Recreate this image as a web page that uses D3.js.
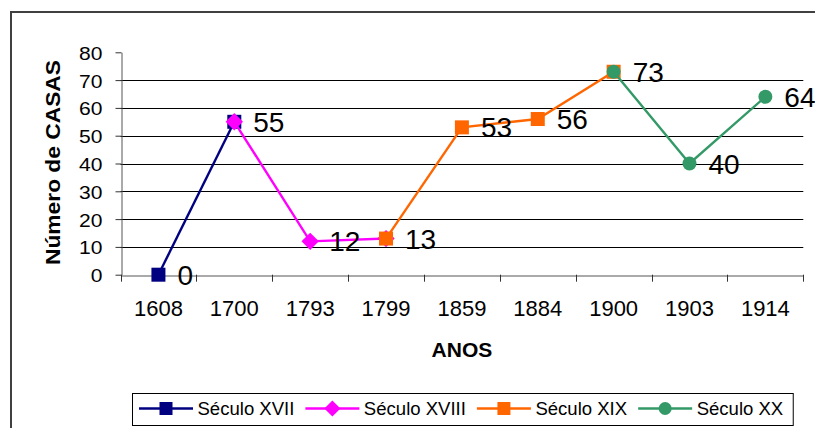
<!DOCTYPE html>
<html>
<head>
<meta charset="utf-8">
<script src="https://cdn.jsdelivr.net/npm/d3@7"></script>
<style>
  html, body { margin: 0; padding: 0; background: #fff; }
  svg { display: block; font-family: Arial, "Liberation Sans", sans-serif; }
</style>
</head>
<body>
<svg id="chart" width="815" height="428"></svg>
<script>
// ---- data ----
const categories = ["1608", "1700", "1793", "1799", "1859", "1884", "1900", "1903", "1914"];
const seculoXVII  = [{c: "1608", v: 0},  {c: "1700", v: 55}];
const seculoXVIII = [{c: "1700", v: 55}, {c: "1793", v: 12}, {c: "1799", v: 13}];
const seculoXIX   = [{c: "1799", v: 13}, {c: "1859", v: 53}, {c: "1884", v: 56}, {c: "1900", v: 73}];
const seculoXX    = [{c: "1900", v: 73}, {c: "1903", v: 40}, {c: "1914", v: 64}];
const pointLabels = [0, 55, 12, 13, 53, 56, 73, 40, 64];
const yTicks = [0, 10, 20, 30, 40, 50, 60, 70, 80];
const seriesNames = ["Século XVII", "Século XVIII", "Século XIX", "Século XX"];

const series = [
  {name: seriesNames[0], data: seculoXVII,  color: "#000080", marker: "square"},
  {name: seriesNames[1], data: seculoXVIII, color: "#FF00FF", marker: "diamond"},
  {name: seriesNames[2], data: seculoXIX,   color: "#FF6600", marker: "square"},
  {name: seriesNames[3], data: seculoXX,    color: "#339966", marker: "circle"}
];

const svg = d3.select("#chart");
const pLeft = 120.5, pRight = 803.3, pTop = 52.3, pBottom = 274.7;

// outer frame
svg.append("rect").attr("x", 11).attr("y", 12).attr("width", 900).attr("height", 600)
  .attr("fill", "#fff").attr("stroke", "#404040").attr("stroke-width", 2);

const x = d3.scaleBand().domain(categories).range([pLeft, pRight]).padding(0);
const y = d3.scaleLinear().domain([0, 80]).range([pBottom, pTop]);
const cx = c => x(c) + x.bandwidth() / 2;

// gridlines
svg.append("g").selectAll("line").data(yTicks.filter(t => t > 0 && t < 80)).join("line")
  .attr("x1", pLeft).attr("x2", pRight)
  .attr("y1", d => Math.round(y(d)) + 0.5).attr("y2", d => Math.round(y(d)) + 0.5)
  .attr("stroke", "#000").attr("stroke-width", 1);

// y axis
const yAxis = svg.append("g").attr("transform", `translate(${Math.round(pLeft) + 0.5},0)`)
  .call(d3.axisLeft(y).tickValues(yTicks).tickSize(6).tickSizeOuter(0).tickPadding(0));
yAxis.select(".domain").attr("stroke", "#555");
yAxis.selectAll(".tick line").attr("stroke", "#333");
yAxis.selectAll(".tick text")
  .attr("x", null).attr("dy", null)
  .style("font-size", "18px").attr("fill", "#000")
  .attr("text-anchor", "end")
  .attr("transform", "translate(-19,7) scale(1.17,1)");

// x axis
const xAxis = svg.append("g").attr("transform", `translate(0,${Math.round(pBottom) + 0.5})`)
  .call(d3.axisBottom(x).tickSize(0).tickPadding(0));
xAxis.select(".domain").attr("stroke", "#555");
xAxis.selectAll(".tick text").attr("y", 40).attr("dy", null)
  .style("font-size", "22px").attr("fill", "#000");
// boundary ticks between categories
svg.append("g").selectAll("line").data(categories.concat(["__end"])).join("line")
  .attr("x1", (d, i) => Math.round(pLeft + i * x.bandwidth()) + 0.5)
  .attr("x2", (d, i) => Math.round(pLeft + i * x.bandwidth()) + 0.5)
  .attr("y1", pBottom).attr("y2", pBottom + 7)
  .attr("stroke", "#333");

// axis titles
svg.append("text").attr("x", (pLeft + pRight) / 2).attr("y", 356.5)
  .attr("text-anchor", "middle").style("font-size", "21px").style("font-weight", "bold")
  .text("ANOS");
svg.append("text").attr("transform", "translate(60,162.5) rotate(-90)")
  .attr("text-anchor", "middle").style("font-size", "21px").style("font-weight", "bold")
  .attr("textLength", 205).attr("lengthAdjust", "spacingAndGlyphs")
  .text("Número de CASAS");

// markers
function drawMarker(g, type, color, px, py, size) {
  if (type === "square") {
    g.append("rect").attr("x", px - size / 2).attr("y", py - size / 2)
      .attr("width", size).attr("height", size).attr("fill", color);
  } else if (type === "diamond") {
    const s = size * 0.62;
    g.append("path").attr("d", `M${px},${py - s}L${px + s},${py}L${px},${py + s}L${px - s},${py}Z`)
      .attr("fill", color);
  } else {
    g.append("circle").attr("cx", px).attr("cy", py).attr("r", size / 2).attr("fill", color);
  }
}

const line = d3.line().x(d => cx(d.c)).y(d => y(d.v));
series.forEach(s => {
  const g = svg.append("g");
  g.append("path").datum(s.data).attr("d", line)
    .attr("fill", "none").attr("stroke", s.color).attr("stroke-width", 2.4);
  s.data.forEach(d => drawMarker(g, s.marker, s.color, cx(d.c), y(d.v), 14));
});

// data labels
svg.append("g").selectAll("text").data(categories).join("text")
  .attr("x", c => cx(c) + 19)
  .attr("y", (c, i) => y(pointLabels[i]) + 10)
  .style("font-size", "28px").attr("fill", "#000")
  .text((c, i) => pointLabels[i]);

// legend
const lg = svg.append("g");
const legBox = lg.append("rect").attr("x", 132.5).attr("y", 393.5).attr("height", 32)
  .attr("fill", "#fff").attr("stroke", "#000").attr("stroke-width", 1);
let lx = 139;
const ly = 408.5;
series.forEach(s => {
  lg.append("line").attr("x1", lx).attr("x2", lx + 54).attr("y1", ly).attr("y2", ly)
    .attr("stroke", s.color).attr("stroke-width", 2.4);
  drawMarker(lg, s.marker, s.color, lx + 27, ly, 13);
  const t = lg.append("text").attr("x", lx + 58.5).attr("y", ly + 6)
    .style("font-size", "18px").attr("fill", "#000").text(s.name);
  const w = t.node().getComputedTextLength() * 1.03;
  t.attr("textLength", w).attr("lengthAdjust", "spacingAndGlyphs");
  lx = lx + 58.5 + w + 11;
});
legBox.attr("width", lx - 11 + 10 - 132.5);
</script>
</body>
</html>
